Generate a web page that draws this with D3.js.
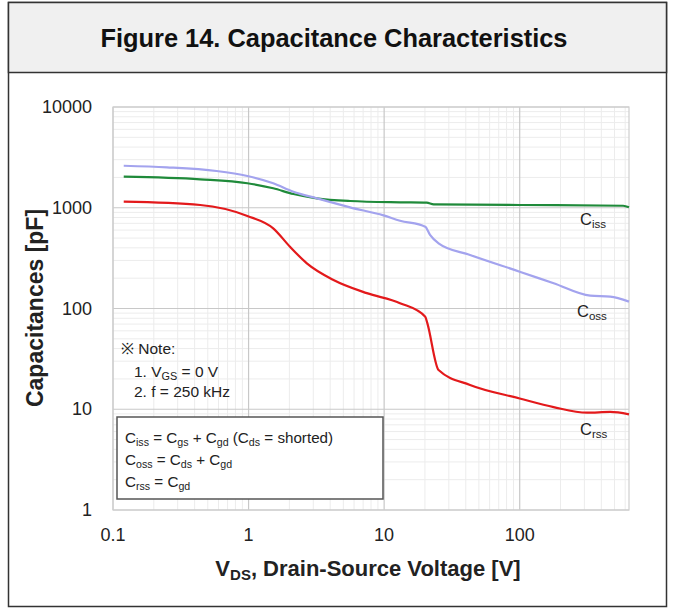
<!DOCTYPE html>
<html><head><meta charset="utf-8">
<script src="https://cdn.jsdelivr.net/npm/d3@7"></script>
<style>body{margin:0;background:#fff}svg{display:block;font-family:"Liberation Sans",Arial,sans-serif}</style>
</head><body><svg id="c" width="675" height="610"></svg>
<script>
const xTicks = [0.1, 1, 10, 100];
const xTickLabels = ["0.1", "1", "10", "100"];
const yTicks = [1, 10, 100, 1000, 10000];
const yTickLabels = ["1", "10", "100", "1000", "10000"];

const cossV = [0.12, 0.25, 0.58, 0.98, 1.52, 2.14, 3.18, 5.6, 9.9, 13.1, 20.1, 21.8, 25.2, 43, 100, 178, 331, 465, 640];
const cossC = [2610, 2520, 2316, 2065, 1750, 1443, 1241, 1010, 840, 744, 649, 537, 444, 340, 232, 178, 134, 131, 117];

const cissV = [0.12, 0.44, 0.98, 1.52, 2.14, 3.18, 5.6, 13.1, 20.6, 23.2, 100, 580, 640];
const cissC = [2033, 1915, 1750, 1560, 1368, 1241, 1167, 1132, 1122, 1081, 1065, 1047, 1010];

const crssV = [0.12, 0.44, 0.98, 1.52, 2.02, 2.69, 4.23, 7.45, 13.1, 20.1, 20.8, 25.2, 43, 100, 178, 313, 465, 640];
const crssC = [1148, 1065, 829, 625, 410, 281, 192, 142, 113, 83, 72, 24.5, 17.4, 12.8, 10.5, 9.24, 9.4, 8.9];

const svg = d3.select("#c");
const L = 113, R = 629, T = 107, B = 510;
const x = d3.scaleLog().domain([0.1, 640]).range([L, R]);
const y = d3.scaleLog().domain([1, 10000]).range([B, T]);

// outer frame
svg.append("rect").attr("x", 8.5).attr("y", 2.5).attr("width", 658).attr("height", 604)
  .attr("fill", "#fff").attr("stroke", "#333").attr("stroke-width", 1.5);
svg.append("rect").attr("x", 8.5).attr("y", 2.5).attr("width", 658).attr("height", 70)
  .attr("fill", "#f0f0f0").attr("stroke", "#333").attr("stroke-width", 1.5);
svg.append("text").attr("x", 334).attr("y", 47).attr("text-anchor", "middle")
  .attr("font-size", 25).attr("font-weight", "bold").attr("fill", "#111")
  .attr("textLength", 467).attr("lengthAdjust", "spacingAndGlyphs")
  .text("Figure 14. Capacitance Characteristics");

// minor grid
const minorX = [];
for (let d = 0.1; d < 1000; d *= 10) for (let k = 2; k <= 9; k++) { const v = d * k; if (v < 640) minorX.push(v); }
const minorY = [];
for (let d = 1; d < 10000; d *= 10) for (let k = 2; k <= 9; k++) minorY.push(d * k);
const g = svg.append("g");
g.selectAll(".mx").data(minorX).join("line").attr("x1", d => x(d)).attr("x2", d => x(d))
  .attr("y1", T).attr("y2", B).attr("stroke", "#ececec").attr("stroke-width", 1);
g.selectAll(".my").data(minorY).join("line").attr("x1", L).attr("x2", R)
  .attr("y1", d => y(d)).attr("y2", d => y(d)).attr("stroke", "#ececec").attr("stroke-width", 1);
g.selectAll(".Mx").data(xTicks).join("line").attr("x1", d => x(d)).attr("x2", d => x(d))
  .attr("y1", T).attr("y2", B).attr("stroke", "#c8c8c8").attr("stroke-width", 1.2);
g.selectAll(".My").data(yTicks).join("line").attr("x1", L).attr("x2", R)
  .attr("y1", d => y(d)).attr("y2", d => y(d)).attr("stroke", "#c8c8c8").attr("stroke-width", 1.2);
svg.append("rect").attr("x", L).attr("y", T).attr("width", R - L).attr("height", B - T)
  .attr("fill", "none").attr("stroke", "#cfcfcf").attr("stroke-width", 1.2);

// axes labels
svg.selectAll(".xt").data(xTicks).join("text").attr("x", d => x(d)).attr("y", 541)
  .attr("text-anchor", "middle").attr("font-size", 18).attr("fill", "#222")
  .text((d, i) => xTickLabels[i]);
svg.selectAll(".yt").data(yTicks).join("text").attr("x", 92).attr("y", d => y(d) + 6)
  .attr("text-anchor", "end").attr("font-size", 18).attr("fill", "#222")
  .text((d, i) => yTickLabels[i]);

// axis titles
const xt = svg.append("text").attr("x", 368).attr("y", 576).attr("text-anchor", "middle")
  .attr("font-size", 22).attr("font-weight", "bold").attr("fill", "#222");
xt.append("tspan").text("V");
xt.append("tspan").attr("font-size", 15).attr("dy", 4).text("DS");
xt.append("tspan").attr("dy", -4).text(", Drain-Source Voltage [V]");
svg.append("text").attr("transform", "translate(43,308) rotate(-90)").attr("text-anchor", "middle")
  .attr("font-size", 23).attr("font-weight", "bold").attr("fill", "#222").text("Capacitances [pF]");

// curves
const line = d3.line().x(d => x(d[0])).y(d => y(d[1])).curve(d3.curveMonotoneX);
const series = [
  { v: cissV, c: cissC, color: "#1f8a3a" },
  { v: cossV, c: cossC, color: "#a3a3ee" },
  { v: crssV, c: crssC, color: "#e3191b" }
];
series.forEach(s => {
  svg.append("path").datum(s.v.map((v, i) => [v, s.c[i]])).attr("d", line)
    .attr("fill", "none").attr("stroke", s.color).attr("stroke-width", 2.2);
});

// rich text helper
function rich(xp, yp, parts, size) {
  const t = svg.append("text").attr("x", xp).attr("y", yp).attr("font-size", size).attr("fill", "#222");
  let sub = false;
  parts.forEach(p => {
    const isSub = p.startsWith("_");
    const txt = isSub ? p.slice(1) : p;
    const ts = t.append("tspan").text(txt);
    if (isSub) { ts.attr("font-size", size * 0.7).attr("dy", sub ? 0 : 3); sub = true; }
    else { if (sub) ts.attr("dy", -3); sub = false; }
  });
  return t;
}
rich(580, 225, ["C", "_iss"], 16.5);
rich(577, 317, ["C", "_oss"], 16.5);
rich(580, 435, ["C", "_rss"], 16.5);

rich(121, 354, ["※ Note:"], 15.5);
rich(134, 377, ["1. V", "_GS", " = 0 V"], 15.5);
rich(134, 397, ["2. f = 250 kHz"], 15.5);

svg.append("rect").attr("x", 117).attr("y", 417).attr("width", 266).attr("height", 82)
  .attr("fill", "#fff").attr("stroke", "#555").attr("stroke-width", 1.5);
rich(125, 443, ["C", "_iss", " = C", "_gs", " + C", "_gd", " (C", "_ds", " = shorted)"], 15.2);
rich(125, 465, ["C", "_oss", " = C", "_ds", " + C", "_gd"], 15.2);
rich(125, 487, ["C", "_rss", " = C", "_gd"], 15.2);
</script>
</body></html>
